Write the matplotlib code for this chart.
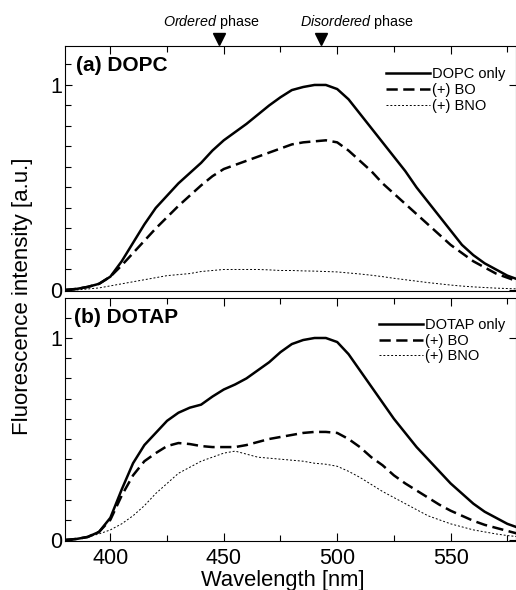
import numpy as np
import matplotlib
matplotlib.use('Agg')
import matplotlib.pyplot as plt

plt.rcParams['font.family'] = ['Liberation Sans', 'DejaVu Sans']
plt.rcParams['mathtext.fontset'] = 'custom'
plt.rcParams['mathtext.it'] = 'Liberation Sans:italic'
plt.rcParams['mathtext.rm'] = 'Liberation Sans'

# wavelength grid [nm]
wl = np.arange(380, 581, 5)

# (a) DOPC
dopc_only = [0.00, 0.005, 0.015, 0.03, 0.065, 0.14, 0.23, 0.32, 0.40, 0.46,
             0.52, 0.57, 0.62, 0.68, 0.73, 0.77, 0.81, 0.855, 0.90, 0.94,
             0.975, 0.99, 1.00, 1.00, 0.98, 0.93, 0.86, 0.79, 0.72, 0.65,
             0.58, 0.50, 0.43, 0.36, 0.29, 0.22, 0.17, 0.13, 0.10, 0.07, 0.05]
dopc_bo = [0.00, 0.005, 0.015, 0.03, 0.065, 0.12, 0.18, 0.24, 0.30, 0.355,
           0.41, 0.46, 0.51, 0.555, 0.59, 0.61, 0.63, 0.65, 0.67, 0.69,
           0.71, 0.72, 0.725, 0.73, 0.72, 0.68, 0.63, 0.58, 0.52, 0.47,
           0.42, 0.37, 0.32, 0.27, 0.22, 0.18, 0.14, 0.11, 0.08, 0.06, 0.04]
dopc_bno = [0.0, 0.0, 0.005, 0.01, 0.02, 0.03, 0.04, 0.05, 0.06, 0.07,
            0.075, 0.08, 0.09, 0.095, 0.10, 0.10, 0.10, 0.10, 0.098, 0.095,
            0.095, 0.093, 0.092, 0.09, 0.088, 0.083, 0.078, 0.072, 0.065, 0.057,
            0.05, 0.043, 0.036, 0.03, 0.024, 0.019, 0.015, 0.012, 0.009, 0.007, 0.005]

# (b) DOTAP
dotap_only = [0.0, 0.005, 0.015, 0.04, 0.11, 0.25, 0.38, 0.47, 0.53, 0.59,
              0.63, 0.655, 0.67, 0.71, 0.745, 0.77, 0.80, 0.84, 0.88, 0.93,
              0.97, 0.99, 1.0, 1.0, 0.98, 0.92, 0.84, 0.76, 0.68, 0.60,
              0.53, 0.46, 0.40, 0.34, 0.28, 0.23, 0.18, 0.14, 0.11, 0.08, 0.06]
dotap_bo = [0.0, 0.005, 0.015, 0.04, 0.10, 0.22, 0.32, 0.39, 0.43, 0.465,
            0.48, 0.475, 0.465, 0.46, 0.46, 0.46, 0.47, 0.485, 0.50, 0.51,
            0.52, 0.53, 0.535, 0.535, 0.53, 0.50, 0.46, 0.41, 0.37, 0.32,
            0.28, 0.245, 0.21, 0.175, 0.145, 0.12, 0.095, 0.075, 0.06, 0.045, 0.03]
dotap_bno = [0.0, 0.005, 0.015, 0.03, 0.05, 0.08, 0.12, 0.17, 0.23, 0.28,
             0.33, 0.36, 0.39, 0.41, 0.43, 0.44, 0.425, 0.41, 0.405, 0.40,
             0.395, 0.39, 0.38, 0.375, 0.365, 0.34, 0.31, 0.275, 0.24, 0.21,
             0.18, 0.15, 0.12, 0.10, 0.08, 0.065, 0.05, 0.04, 0.03, 0.022, 0.016]

labels_a = ['DOPC only', '(+) BO', '(+) BNO']
labels_b = ['DOTAP only', '(+) BO', '(+) BNO']
phase_pos = [448, 493]

fig = plt.figure(figsize=(5.16, 5.90), dpi=100)
ax1 = fig.add_axes([65/516, 1-291/590, 450.5/516, 245/590])
ax2 = fig.add_axes([65/516, 1-541/590, 450.5/516, 243/590])

def draw(ax, ys, labels, leg_y):
    ax.plot(wl, ys[0], color='black', lw=1.8, label=labels[0])
    ax.plot(wl, ys[1], color='black', lw=1.8, ls=(0, (4.5, 2.2)), label=labels[1])
    ax.plot(wl, ys[2], color='black', lw=0.7, ls=(0, (2, 2)), label=labels[2])
    ax.set_xlim(380, 578.6)
    ax.set_yticks([0, 1])
    ax.set_yticks(np.arange(0, 1.2, 0.1), minor=True)
    ax.set_xticks([400, 450, 500, 550])
    ax.set_xticks([425, 475, 525, 575], minor=True)
    ax.tick_params(which='both', direction='in', labelsize=15.5, right=True)
    ax.tick_params(which='major', length=6, width=0.8)
    ax.tick_params(which='minor', length=4, width=0.8, right=False)
    ax.tick_params(axis='x', which='major', pad=5)
    ax.tick_params(axis='y', which='major', length=5, pad=2)
    ax.legend(loc='upper right', bbox_to_anchor=(1.0, leg_y), frameon=False,
              fontsize=10.5, handlelength=3.0, handletextpad=0.15,
              labelspacing=0.12, borderaxespad=0.3)
    for spine in ax.spines.values():
        spine.set_linewidth(0.8)

draw(ax1, [dopc_only, dopc_bo, dopc_bno], labels_a, 0.955)
draw(ax2, [dotap_only, dotap_bo, dotap_bno], labels_b, 0.96)

ax1.set_ylim(-0.005, 1.19)
ax2.set_ylim(-0.005, 1.198)
ax1.tick_params(axis='x', which='both', top=True, bottom=False, labelbottom=False)
ax2.tick_params(axis='x', which='both', top=True, bottom=True)

ax1.text(0.025, 0.92, '(a) DOPC', transform=ax1.transAxes, fontsize=15,
         fontweight='bold', va='center')
ax2.text(0.02, 0.92, '(b) DOTAP', transform=ax2.transAxes, fontsize=15,
         fontweight='bold', va='center')

# phase markers above the top panel
ax1.plot(phase_pos, [1.225, 1.225], 'v', color='black', markersize=9, clip_on=False)
ax1.text(423.3, 1.305, r'$\mathit{Ordered}$ phase', fontsize=10.3, va='center')
ax1.text(483.7, 1.305, r'$\mathit{Disordered}$ phase', fontsize=10.3, va='center')

ax2.set_xlabel('Wavelength [nm]', fontsize=15.8)
ax2.xaxis.set_label_coords(0.484, -0.118)
fig.text(23/516, 1-296/590, 'Fluorescence intensity [a.u.]', rotation=90,
         fontsize=16, ha='center', va='center')

plt.savefig('out.png', dpi=100)
